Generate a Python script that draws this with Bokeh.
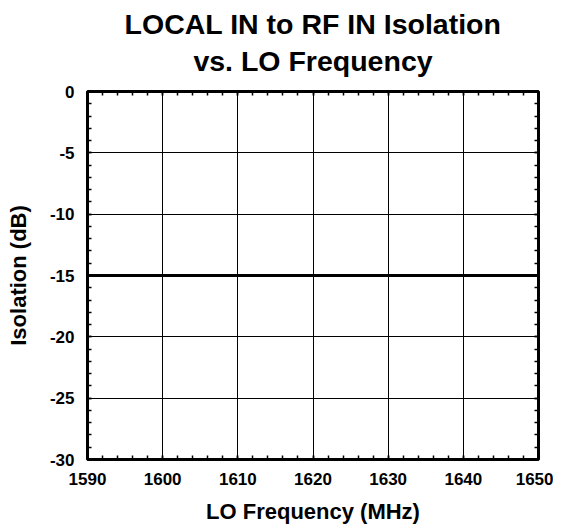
from bokeh.plotting import figure
from bokeh.models import (Range1d, LinearAxis, SingleIntervalTicker, Title,
                          CustomLabelingPolicy, CustomJSTickFormatter,
                          PrintfTickFormatter)
from bokeh.embed import file_html
from bokeh.resources import INLINE

# Data
lo_freq_mhz = [1590, 1600, 1610, 1620, 1630, 1640, 1650]
isolation_db = [-15, -15, -15, -15, -15, -15, -15]
x_limits = (1590, 1650)
y_limits = (-30, 0)

FONT = "Liberation Sans"

p = figure(width=553, height=527, title=None, toolbar_location=None,
           output_backend="svg",
           x_range=Range1d(*x_limits), y_range=Range1d(*y_limits),
           min_border_left=87, min_border_right=15,
           min_border_top=91, min_border_bottom=68)

p.outline_line_color = "black"
p.outline_line_width = 3
p.background_fill_color = "white"
p.border_fill_color = "white"

xt = SingleIntervalTicker(interval=10, num_minor_ticks=5)
yt = SingleIntervalTicker(interval=5, num_minor_ticks=5)

def style_axis(ax, labels=True):
    ax.axis_line_color = None
    ax.major_tick_in = 4
    ax.major_tick_out = 0
    ax.minor_tick_in = 4
    ax.minor_tick_out = 0
    ax.major_tick_line_color = "black"
    ax.minor_tick_line_color = "black"
    ax.major_tick_line_width = 1.5
    ax.minor_tick_line_width = 1.5
    ax.major_label_text_font = FONT
    ax.major_label_text_font_style = "bold"
    ax.major_label_text_font_size = "17px"
    ax.major_label_text_color = "black"
    ax.axis_label_text_font = FONT
    ax.axis_label_text_font_style = "bold"
    ax.axis_label_text_font_size = "22px"
    ax.axis_label_text_color = "black"
    if labels:
        ax.formatter = PrintfTickFormatter(format="%d")
    else:
        ax.formatter = CustomJSTickFormatter(code="return ''")
        ax.major_label_text_font_size = "1px"
        ax.major_label_policy = CustomLabelingPolicy(
            code="for (const i of Array.from(indices)) { indices.unset(i) } return indices")
        ax.major_label_standoff = 0
        ax.axis_label_standoff = 0

p.xaxis.ticker = xt
p.yaxis.ticker = yt
p.xaxis.axis_label = "LO Frequency (MHz)"
p.yaxis.axis_label = "Isolation (dB)"
style_axis(p.xaxis[0])
style_axis(p.yaxis[0])
p.xaxis.major_label_standoff = 13
p.yaxis.major_label_standoff = 13
p.xaxis.axis_label_standoff = 11
p.yaxis.axis_label_standoff = 16

top = LinearAxis(ticker=SingleIntervalTicker(interval=10, num_minor_ticks=5))
right = LinearAxis(ticker=SingleIntervalTicker(interval=5, num_minor_ticks=5))
style_axis(top, labels=False)
style_axis(right, labels=False)
p.add_layout(top, "above")
p.add_layout(right, "right")

p.xgrid.ticker = xt
p.ygrid.ticker = yt
p.grid.grid_line_color = "black"
p.grid.grid_line_width = 1
p.grid.grid_line_alpha = 1.0

p.line(lo_freq_mhz, isolation_db, line_color="black", line_width=3)

t2 = Title(text="vs. LO Frequency", align="center", text_font=FONT,
           text_font_style="bold", text_font_size="28.5px", text_color="black",
           standoff=30)
t1 = Title(text="LOCAL IN to RF IN Isolation", align="center", text_font=FONT,
           text_font_style="bold", text_font_size="28.5px", text_color="black",
           standoff=-24)
p.add_layout(t2, "above")
p.add_layout(t1, "above")

open("out.html", "w").write(file_html(p, INLINE))
